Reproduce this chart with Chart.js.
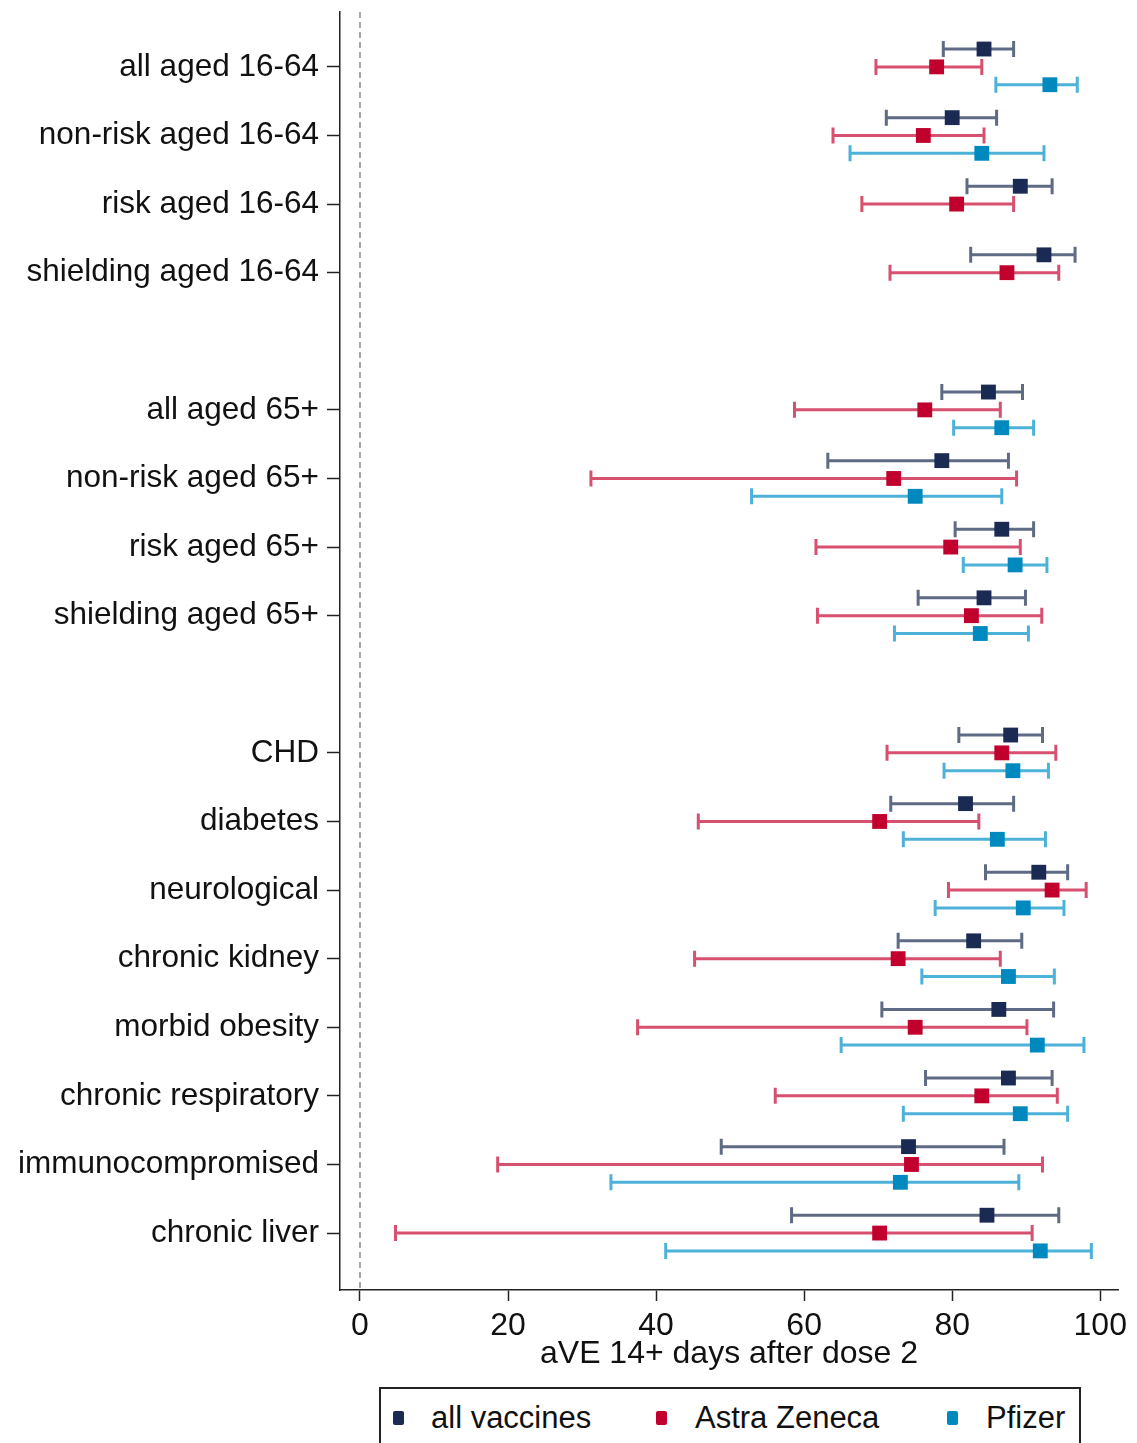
<!DOCTYPE html>
<html>
<head>
<meta charset="utf-8">
<script src="https://cdn.jsdelivr.net/npm/chart.js@4.4.0/dist/chart.umd.min.js"></script>
<style>
  html, body { margin: 0; padding: 0; background: #fff; }
  body { width: 1137px; height: 1443px; overflow: hidden; position: relative; font-family: "Liberation Sans", Arial, sans-serif; }
  #wrap { position: absolute; left: 0; top: 0; width: 1137px; height: 1380px; }
  #legend { position: absolute; left: 379px; top: 1387px; width: 702px; height: 80px; border: 2px solid #222; box-sizing: border-box; }
  .lg-item { position: absolute; top: 12px; font-size: 31px; line-height: 34px; color: #111; white-space: nowrap; }
  .lg-swatch { position: absolute; top: 22px; width: 11px; height: 14px; border-radius: 2px; }
</style>
</head>
<body>
<div id="wrap"><canvas id="chart" width="1137" height="1380"></canvas></div>
<div id="legend"></div>
<script>
// Subgroups, top to bottom; an empty row separates the three blocks
const groups = [
    ['all aged 16-64', 'non-risk aged 16-64', 'risk aged 16-64', 'shielding aged 16-64'],
    ['all aged 65+', 'non-risk aged 65+', 'risk aged 65+', 'shielding aged 65+'],
    ['CHD', 'diabetes', 'neurological', 'chronic kidney', 'morbid obesity',
     'chronic respiratory', 'immunocompromised', 'chronic liver'],
];

// aVE point estimates and 95% CI (null = not reported)
const allEst = [84.3, 80.0, 89.2, 92.4, 84.9, 78.6, 86.7, 84.3, 87.9, 81.8, 91.7, 82.9, 86.3, 87.6, 74.1, 84.7];
const allLo  = [78.8, 71.1, 82.0, 82.5, 78.6, 63.2, 80.4, 75.4, 80.9, 71.7, 84.5, 72.7, 70.5, 76.4, 48.8, 58.3];
const allHi  = [88.3, 86.0, 93.5, 96.6, 89.5, 87.6, 91.0, 89.9, 92.2, 88.3, 95.6, 89.4, 93.7, 93.5, 87.0, 94.4];

const azEst  = [77.9, 76.1, 80.6, 87.4, 76.3, 72.1, 79.8, 82.6, 86.7, 70.2, 93.5, 72.7, 75.0, 84.0, 74.5, 70.2];
const azLo   = [69.7, 63.9, 67.8, 71.6, 58.7, 31.2, 61.6, 61.8, 71.2, 45.7, 79.5, 45.2, 37.5, 56.1, 18.6,  4.8];
const azHi   = [84.0, 84.3, 88.3, 94.4, 86.5, 88.7, 89.2, 92.1, 94.0, 83.6, 98.1, 86.5, 90.1, 94.2, 92.2, 90.8];

const pfEst  = [93.2, 84.0, null, null, 86.7, 75.0, 88.5, 83.8, 88.2, 86.1, 89.6, 87.6, 91.5, 89.2, 73.0, 91.9];
const pfLo   = [85.9, 66.2, null, null, 80.2, 52.9, 81.5, 72.2, 78.9, 73.4, 77.7, 75.9, 65.0, 73.4, 33.9, 41.3];
const pfHi   = [96.9, 92.4, null, null, 91.0, 86.7, 92.8, 90.3, 93.0, 92.6, 95.1, 93.8, 97.8, 95.6, 89.0, 98.8];

const xTicks = [0, 20, 40, 60, 80, 100];

// y tick labels: groups joined with a blank row between them
const yLabels = [];
groups.forEach((g, i) => {
    if (i > 0) yLabels.push('');
    yLabels.push(...g);
});
const categories = groups.flat();
const rowOf = i => yLabels.indexOf(categories[i]);

function seriesPoints(est, lo, hi, offset) {
    const pts = [];
    est.forEach((v, i) => {
        if (v == null) return;
        pts.push({ x: v, y: rowOf(i) + offset, lo: lo[i], hi: hi[i] });
    });
    return pts;
}

const SERIES = [
    { label: 'all vaccines', est: allEst, lo: allLo, hi: allHi, offset: -0.26, marker: '#1b2a52', line: '#5f6b85' },
    { label: 'Astra Zeneca', est: azEst,  lo: azLo,  hi: azHi,  offset: 0,     marker: '#c1002e', line: '#d8506f' },
    { label: 'Pfizer',       est: pfEst,  lo: pfLo,  hi: pfHi,  offset: 0.26,  marker: '#0089bf', line: '#4db2d8' },
];

const Y_MIN = -0.8, Y_MAX = 17.83;

// draws the CI whiskers under the markers
const errorBars = {
    id: 'errorBars',
    beforeDatasetsDraw(chart) {
        const { ctx, scales: { x, y } } = chart;
        chart.data.datasets.forEach(ds => {
            if (!ds.ciColor) return;
            ctx.save();
            ctx.strokeStyle = ds.ciColor;
            ctx.lineWidth = 3;
            ds.data.forEach(p => {
                const py = y.getPixelForValue(p.y);
                const x0 = x.getPixelForValue(p.lo);
                const x1 = x.getPixelForValue(p.hi);
                ctx.beginPath();
                ctx.moveTo(x0, py); ctx.lineTo(x1, py);
                ctx.moveTo(x0, py - 8); ctx.lineTo(x0, py + 8);
                ctx.moveTo(x1, py - 8); ctx.lineTo(x1, py + 8);
                ctx.stroke();
            });
            ctx.restore();
        });
    }
};

Chart.defaults.font.family = '"Liberation Sans", Arial, sans-serif';
Chart.defaults.color = '#111';

const datasets = [{
    type: 'line',
    label: 'zero',
    data: [{ x: 0, y: Y_MIN }, { x: 0, y: Y_MAX }],
    borderColor: '#8c8c8c',
    borderWidth: 1.5,
    borderDash: [6, 4],
    pointRadius: 0,
}];
SERIES.forEach(s => {
    datasets.push({
        label: s.label,
        data: seriesPoints(s.est, s.lo, s.hi, s.offset),
        backgroundColor: s.marker,
        borderWidth: 0,
        pointStyle: 'rect',
        pointRadius: 10.5,
        ciColor: s.line,
    });
});

new Chart(document.getElementById('chart'), {
    type: 'scatter',
    data: { datasets },
    plugins: [errorBars],
    options: {
        responsive: false,
        animation: false,
        layout: { padding: { top: 12, right: 19, left: 0, bottom: 0 } },
        plugins: { legend: { display: false }, tooltip: { enabled: false } },
        scales: {
            x: {
                type: 'linear',
                min: -2.7,
                max: 102.4,
                afterBuildTicks: s => { s.ticks = xTicks.map(v => ({ value: v })); },
                afterFit: s => { s.height = 90; },
                grid: { drawOnChartArea: false, tickLength: 11, tickColor: '#222', tickWidth: 1.5 },
                border: { color: '#222', width: 1.5 },
                ticks: { font: { size: 32 }, color: '#111', padding: 6, maxRotation: 0 },
                title: {
                    display: true,
                    text: 'aVE 14+ days after dose 2',
                    font: { size: 32 },
                    color: '#111',
                    padding: { top: 0, bottom: 7 },
                },
            },
            y: {
                type: 'linear',
                min: Y_MIN,
                max: Y_MAX,
                reverse: true,
                afterBuildTicks: s => { s.ticks = yLabels.map((_, i) => ({ value: i })); },
                afterFit: s => {
                    s.width = 340;
                    // labels never reach the edges, so no extra room is needed
                    s.paddingTop = 0;
                    s.paddingBottom = 0;
                },
                grid: {
                    drawOnChartArea: false,
                    tickLength: 13,
                    tickWidth: 1.5,
                    tickColor: ctx => (ctx.tick && yLabels[ctx.tick.value]) ? '#222' : 'rgba(0,0,0,0)',
                },
                border: { color: '#222', width: 1.5 },
                ticks: {
                    autoSkip: false,
                    font: { size: 31.5 },
                    color: '#111',
                    padding: 8,
                    callback: v => yLabels[v] || '',
                },
            },
        },
    },
});

// legend below the plot
const LEGEND_POS = [[12, 50], [275, 314], [566, 605]];
const legend = document.getElementById('legend');
legend.innerHTML = SERIES.map((s, i) => `
    <span class="lg-swatch" style="left:${LEGEND_POS[i][0]}px;background:${s.marker}"></span>
    <span class="lg-item" style="left:${LEGEND_POS[i][1]}px">${s.label}</span>
`).join('');
</script>
</body>
</html>
